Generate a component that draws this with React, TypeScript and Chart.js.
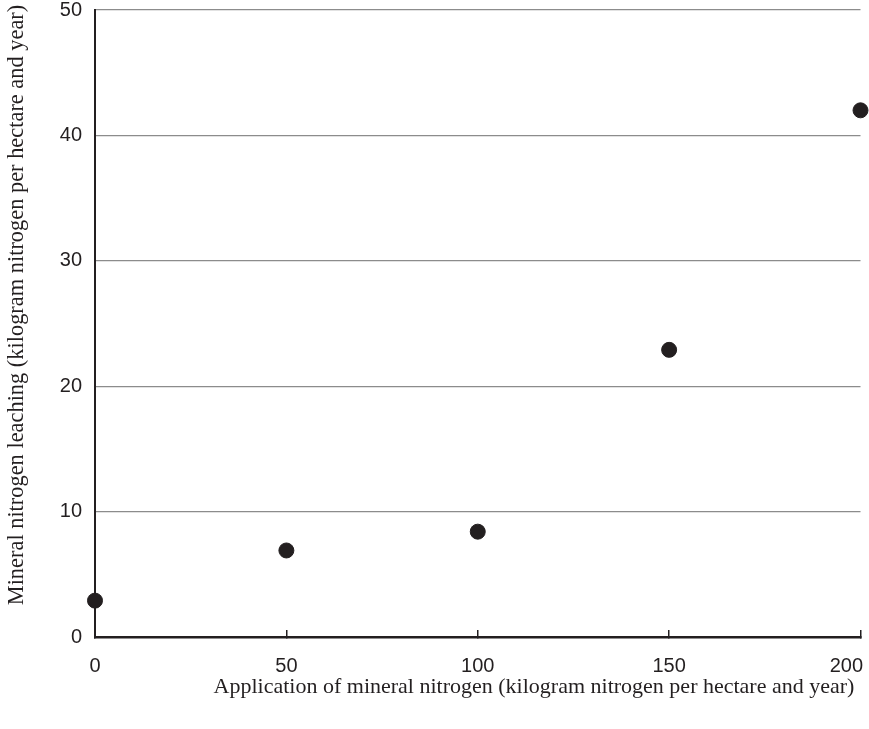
import React, { useEffect, useRef } from "react";
import { Chart, registerables } from "chart.js";

Chart.register(...registerables);

const nitrogenApplied = [0, 50, 100, 150, 200];
const nitrogenLeaching = [2.9, 6.9, 8.4, 22.9, 42];
const xTicks = [0, 50, 100, 150, 200];
const yTicks = [0, 10, 20, 30, 40, 50];
const xTitle = "Application of mineral nitrogen (kilogram nitrogen per hectare and year)";
const yTitle = "Mineral nitrogen leaching (kilogram nitrogen per hectare and year)";

const INK = "#231f20";
const TICK_FONT = '20px "Liberation Sans", Arial';

const textPlugin = {
  id: "customText",
  afterDraw(chart: any) {
    const ctx = chart.ctx;
    const area = chart.chartArea;
    const xs = chart.scales.x;
    ctx.save();
    ctx.fillStyle = INK;
    // x tick labels
    ctx.font = TICK_FONT;
    ctx.textBaseline = "middle";
    ctx.textAlign = "center";
    xTicks.forEach((v) => {
      const label = String(v);
      const w = ctx.measureText(label).width;
      let cx = xs.getPixelForValue(v);
      const maxRight = chart.width - 6;
      if (cx + w / 2 > maxRight) cx = maxRight - w / 2;
      ctx.fillText(label, cx, area.bottom + 29);
    });
    // axis titles
    ctx.font = '22px "Liberation Serif"';
    ctx.fillText(xTitle, area.left + 439, area.bottom + 50);
    ctx.font = '22.4px "Liberation Serif"';
    ctx.translate(17, area.top + 295);
    ctx.rotate(-Math.PI / 2);
    ctx.fillText(yTitle, 0, 0);
    ctx.restore();
  },
};

export default function App() {
  const ref = useRef<HTMLCanvasElement>(null);
  useEffect(() => {
    const chart = new Chart(ref.current!, {
      type: "scatter",
      data: {
        datasets: [
          {
            data: nitrogenApplied.map((x, i) => ({ x, y: nitrogenLeaching[i] })),
            backgroundColor: INK,
            borderColor: INK,
            pointRadius: 7.5,
            pointHoverRadius: 7.5,
            clip: false as any,
          },
        ],
      },
      options: {
        animation: false,
        responsive: false,
        layout: { padding: { top: 10, right: 5, left: 0, bottom: 0 } },
        plugins: { legend: { display: false }, tooltip: { enabled: false } },
        scales: {
          x: {
            type: "linear",
            min: xTicks[0],
            max: xTicks[xTicks.length - 1],
            afterBuildTicks: (s: any) => {
              s.ticks = xTicks.map((v) => ({ value: v }));
            },
            afterFit: (s: any) => {
              s.height = 92;
              s.paddingLeft = 0;
              s.paddingRight = 0;
            },
            grid: {
              drawOnChartArea: false,
              drawTicks: true,
              tickLength: -7,
              color: INK,
              lineWidth: 1.5,
            },
            border: { display: true, color: INK, width: 2.5 },
            ticks: { display: false },
          },
          y: {
            type: "linear",
            min: yTicks[0],
            max: yTicks[yTicks.length - 1],
            afterBuildTicks: (s: any) => {
              s.ticks = yTicks.map((v) => ({ value: v }));
            },
            afterFit: (s: any) => {
              s.width = 95;
              s.paddingTop = 0;
              s.paddingBottom = 0;
            },
            grid: {
              drawTicks: false,
              color: (c: any) => (c.tick && c.tick.value === 0 ? "rgba(0,0,0,0)" : "#8c8c8c"),
              lineWidth: 1.3,
            },
            border: { display: true, color: INK, width: 2 },
            ticks: {
              padding: 13,
              color: INK,
              font: { family: '"Liberation Sans", Arial', size: 20 },
            },
          },
        },
      },
      plugins: [textPlugin],
    });
    return () => chart.destroy();
  }, []);
  return (
    <div style={{ position: "fixed", left: 0, top: 0, width: 869, height: 729, background: "#fff" }}>
      <canvas ref={ref} width={869} height={729} style={{ width: 869, height: 729 }} />
    </div>
  );
}
